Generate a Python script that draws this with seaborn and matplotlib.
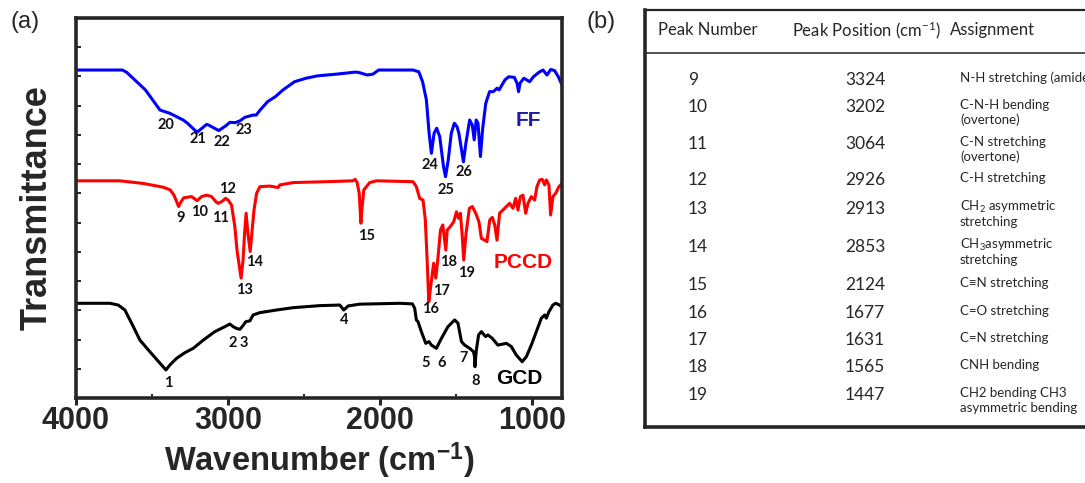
import matplotlib
matplotlib.use("Agg")
import matplotlib.pyplot as plt
import pandas as pd
import seaborn as sns

# ---------------------------------------------------------------------------
# FTIR spectra (transmittance, traces offset vertically for clarity)
# ---------------------------------------------------------------------------
ff_wavenumber = [4000, 3694, 3666, 3543, 3447, 3382, 3294, 3266, 3203, 3140, 3128,
                 3060, 3014, 2987, 2951, 2921, 2889, 2834, 2813, 2788, 2738, 2687,
                 2637, 2561, 2485, 2410, 2284, 2159, 2133, 2083, 2045, 2007, 1781,
                 1743, 1718, 1693, 1675, 1660, 1642, 1625, 1605, 1580, 1567, 1549,
                 1529, 1509, 1491, 1479, 1449, 1433, 1408, 1391, 1378, 1365, 1353,
                 1337, 1322, 1302, 1277, 1252, 1227, 1214, 1202, 1176, 1151, 1114,
                 1096, 1086, 1076, 1051, 1013, 988, 950, 925, 899, 874, 849, 824, 800]
ff_transmittance = [11.22, 11.22, 11.14, 10.54, 9.85, 9.74, 9.51, 9.40, 9.09, 9.36, 9.34,
                    9.15, 9.31, 9.43, 9.42, 9.48, 9.60, 9.68, 9.68, 9.85, 10.14, 10.31,
                    10.54, 10.82, 10.94, 11.02, 11.08, 11.15, 11.13, 11.05, 11.08, 11.22, 11.22,
                    11.16, 10.82, 10.20, 9.06, 8.37, 9.06, 9.23, 8.94, 7.91, 7.57, 8.14,
                    9.06, 9.40, 9.28, 9.06, 8.08, 8.71, 9.51, 9.34, 8.83, 9.51, 9.40,
                    8.26, 9.23, 10.08, 10.48, 10.48, 10.60, 10.54, 10.65, 10.88, 10.99, 10.97,
                    10.77, 10.48, 10.77, 10.94, 10.82, 10.99, 11.15, 11.22, 11.05, 11.24, 11.20, 10.99, 10.71]

pccd_wavenumber = [4000, 3711, 3557, 3425, 3380, 3355, 3324, 3310, 3290, 3239, 3202,
                   3173, 3140, 3107, 3080, 3064, 3040, 3015, 2998, 2976, 2954, 2940,
                   2913, 2900, 2890, 2880, 2868, 2853, 2840, 2828, 2811, 2789, 2724,
                   2669, 2658, 2570, 2351, 2176, 2162, 2149, 2135, 2129, 2124, 2118,
                   2105, 2066, 2022, 1781, 1759, 1737, 1715, 1700, 1688, 1677, 1662,
                   1645, 1631, 1618, 1600, 1585, 1565, 1556, 1544, 1528, 1513, 1495,
                   1482, 1469, 1458, 1447, 1432, 1410, 1390, 1368, 1347, 1331, 1309,
                   1294, 1276, 1259, 1243, 1228, 1211, 1189, 1166, 1145, 1123, 1105,
                   1090, 1074, 1057, 1039, 1024, 1002, 980, 965, 947, 930, 914, 903,
                   886, 875, 860, 842, 820, 800]
pccd_transmittance = [7.43, 7.43, 7.34, 7.21, 7.12, 6.94, 6.55, 6.70, 6.85, 6.89, 6.75,
                      6.89, 6.94, 6.89, 6.72, 6.66, 6.72, 6.83, 6.77, 6.60, 5.86, 5.06,
                      4.10, 4.72, 5.63, 6.32, 5.63, 5.01, 5.75, 6.43, 7.00, 7.23, 7.25,
                      7.20, 7.29, 7.37, 7.40, 7.43, 7.48, 7.37, 7.00, 6.43, 5.98, 6.43,
                      7.12, 7.37, 7.43, 7.40, 7.23, 6.83, 6.77, 6.09, 4.72, 3.29, 3.92,
                      4.61, 4.10, 4.72, 5.75, 5.92, 5.06, 5.75, 5.81, 5.92, 6.03, 6.37,
                      6.15, 6.32, 5.63, 4.72, 5.63, 6.49, 6.55, 6.32, 6.03, 5.46, 5.40,
                      5.35, 6.09, 6.18, 5.92, 5.40, 6.32, 6.43, 6.55, 6.66, 6.49, 6.83,
                      6.43, 6.89, 6.94, 6.32, 6.66, 6.89, 6.77, 7.23, 7.46, 7.48, 7.29, 7.46,
                      7.29, 6.26, 6.89, 7.00, 7.23, 7.34]

gcd_wavenumber = [4000, 3776, 3722, 3678, 3634, 3579, 3513, 3447, 3408, 3382, 3337,
                  3283, 3228, 3162, 3086, 3020, 2987, 2965, 2943, 2921, 2903, 2882,
                  2855, 2834, 2789, 2680, 2570, 2395, 2263, 2237, 2208, 2132, 1868,
                  1785, 1770, 1759, 1748, 1726, 1697, 1676, 1660, 1627, 1594, 1551,
                  1507, 1485, 1462, 1441, 1408, 1382, 1376, 1373, 1368, 1364, 1349,
                  1331, 1303, 1288, 1259, 1222, 1166, 1134, 1101, 1062, 1035, 1002,
                  969, 936, 914, 903, 886, 860, 842, 816, 800]
gcd_transmittance = [3.24, 3.24, 3.18, 3.01, 2.56, 1.98, 1.58, 1.19, 0.96, 1.13, 1.36,
                     1.55, 1.70, 1.98, 2.27, 2.44, 2.53, 2.44, 2.38, 2.35, 2.46, 2.61,
                     2.64, 2.84, 2.92, 3.01, 3.09, 3.16, 3.18, 3.01, 3.15, 3.21, 3.24,
                     3.22, 3.07, 2.67, 2.61, 2.27, 1.87, 1.93, 1.81, 1.70, 2.04, 2.44,
                     2.67, 2.56, 1.93, 1.81, 1.70, 1.58, 1.40, 1.07, 1.40, 1.64, 2.16,
                     2.27, 2.10, 2.16, 2.04, 1.81, 1.87, 1.76, 1.47, 1.24, 1.41, 1.81,
                     2.27, 2.73, 2.84, 2.73, 2.95, 3.18, 3.24, 3.18, 3.10]

samples = ["FF", "PCCD", "GCD"]
sample_colors = {"FF": "#0000ff", "PCCD": "#ff0000", "GCD": "#000000"}
sample_label_colors = {"FF": "#1c1ca6", "PCCD": "#ff0000", "GCD": "#000000"}

# Peak numbers and where each number is written on the spectrum
peak_numbers = [str(i) for i in range(1, 27)]
peak_label_xy = {
    "1": (3395, 0.51), "2": (2970, 1.88), "3": (2895, 1.88), "4": (2234, 2.67),
    "5": (1700, 1.20), "6": (1592, 1.20), "7": (1447, 1.37), "8": (1370, 0.58),
    "9": (3312, 6.16), "10": (3184, 6.36), "11": (3046, 6.16), "12": (3000, 7.15),
    "13": (2888, 3.69), "14": (2826, 4.65), "15": (2088, 5.54), "16": (1664, 3.04),
    "17": (1592, 3.66), "18": (1549, 4.65), "19": (1428, 4.28),
    "20": (3408, 9.34), "21": (3197, 8.86), "22": (3039, 8.76), "23": (2895, 9.17),
    "24": (1668, 7.97), "25": (1566, 7.12), "26": (1447, 7.73),
}
sample_label_xy = {"FF": (1020, 9.48), "PCCD": (1053, 4.62), "GCD": (1079, 0.65)}

# Peak assignment table for PCCD
table_header = ["Peak Number", "Peak Position (cm$^{-1}$)", "Assignment"]
table_peaks = [9, 10, 11, 12, 13, 14, 15, 16, 17, 18, 19]
table_positions = [3324, 3202, 3064, 2926, 2913, 2853, 2124, 1677, 1631, 1565, 1447]
table_assignments = [
    ["N-H stretching (amide)"],
    ["C-N-H bending", "(overtone)"],
    ["C-N stretching", "(overtone)"],
    ["C-H stretching"],
    ["CH$_2$ asymmetric", "stretching"],
    ["CH$_3$asymmetric", "stretching"],
    ["C\u2261N stretching"],
    ["C=O stretching"],
    ["C=N stretching"],
    ["CNH bending"],
    ["CH2 bending CH3", "asymmetric bending"],
]
table_row_y = [80, 107, 144, 180, 209, 247, 285, 313, 340, 367, 395]

# ---------------------------------------------------------------------------
sns.set_style("ticks")
plt.rcParams["font.family"] = ["Liberation Sans", "DejaVu Sans"]
plt.rcParams["mathtext.fontset"] = "custom"
plt.rcParams["mathtext.rm"] = "Lato"
plt.rcParams["mathtext.it"] = "Lato:italic"
plt.rcParams["mathtext.bf"] = "Liberation Sans:bold"

W, H = 1085, 483
fig = plt.figure(figsize=(W / 100, H / 100), dpi=100)

# ---- panel (a): spectra ----------------------------------------------------
ax_l, ax_r, ax_t, ax_b = 76, 562, 18, 398
ax = fig.add_axes([ax_l / W, 1 - ax_b / H, (ax_r - ax_l) / W, (ax_b - ax_t) / H])

spectra = pd.concat([
    pd.DataFrame({"wavenumber": ff_wavenumber, "transmittance": ff_transmittance, "sample": "FF"}),
    pd.DataFrame({"wavenumber": pccd_wavenumber, "transmittance": pccd_transmittance, "sample": "PCCD"}),
    pd.DataFrame({"wavenumber": gcd_wavenumber, "transmittance": gcd_transmittance, "sample": "GCD"}),
], ignore_index=True)

sns.lineplot(data=spectra, x="wavenumber", y="transmittance", hue="sample",
             hue_order=samples, palette=sample_colors, sort=False, estimator=None,
             legend=False, linewidth=2.2, ax=ax)

ax.set_xlim(4000, 800)
ax.set_ylim(0, 13)
ax.set_xticks([4000, 3000, 2000, 1000])
ax.set_xticks([3500, 2500, 1500], minor=True)
ax.set_yticks(range(1, 13))
ax.set_yticklabels([])
ax.tick_params(axis="y", which="major", direction="in", length=3.5, width=1.4)
ax.tick_params(axis="x", which="major", direction="out", length=5, width=2.2,
               labelsize=22, pad=1)
ax.tick_params(axis="x", which="minor", direction="in", length=3, width=1.4)
for lab in ax.get_xticklabels():
    lab.set_fontweight("bold")
for sp in ax.spines.values():
    sp.set_visible(True)
    sp.set_linewidth(2.6)

ax.set_xlabel(r"Wavenumber (cm$^{\mathbf{-1}}$)", fontsize=23.5, fontweight="bold", labelpad=3)
ax.set_ylabel("Transmittance", fontsize=26, fontweight="bold", labelpad=12)

for num in peak_numbers:
    x, y = peak_label_xy[num]
    ax.text(x, y, num, ha="center", va="center", fontsize=10.5, fontweight="bold",
            family=["Lato", "DejaVu Sans"], color="#111111")
for name in samples:
    x, y = sample_label_xy[name]
    ax.text(x, y, name, ha="center", va="center", fontsize=15, fontweight="bold",
            color=sample_label_colors[name])

fig.text(25 / W, 1 - 22 / H, "(a)", fontsize=17, ha="center", va="center")
fig.text(601 / W, 1 - 22 / H, "(b)", fontsize=17, ha="center", va="center")

# ---- panel (b): assignment table ------------------------------------------
tb_l, tb_r, tb_t, tb_b = 645, W, 10, 427
tax = fig.add_axes([tb_l / W, 1 - tb_b / H, (tb_r - tb_l) / W, (tb_b - tb_t) / H])
tax.set_xlim(tb_l, tb_r)
tax.set_ylim(tb_b, tb_t)
tax.set_xticks([])
tax.set_yticks([])
tax.spines["right"].set_visible(False)
tax.spines["left"].set_linewidth(2.6)
tax.spines["bottom"].set_linewidth(2.6)
tax.spines["top"].set_linewidth(1.6)
tax.axhline(53, color="#333333", lw=1.2)

tfont = ["Lato", "DejaVu Sans"]
header_x = [708, 867, 992]
for hx, htxt in zip(header_x, table_header):
    tax.text(hx, 30, htxt, ha="center", va="center", fontsize=12, family=tfont)

for peak, pos, lines, ry in zip(table_peaks, table_positions, table_assignments, table_row_y):
    tax.text(688, ry, str(peak), ha="left", va="center", fontsize=12.5, family=tfont)
    tax.text(865, ry, str(pos), ha="center", va="center", fontsize=12.5, family=tfont)
    for i, line in enumerate(lines):
        tax.text(960, ry - 2 + 15 * i, line, ha="left", va="center", fontsize=9.5,
                 family=tfont, clip_on=False)

fig.savefig("out.png", dpi=100)
